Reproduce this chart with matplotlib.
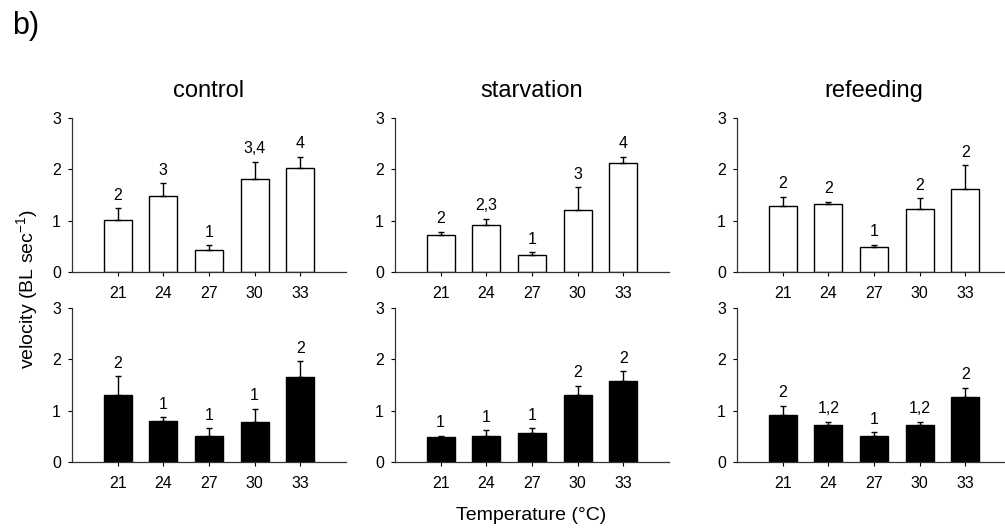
import numpy as np
import matplotlib
matplotlib.use('Agg')
import matplotlib.pyplot as plt

plt.rcParams['font.family'] = ['Liberation Sans', 'DejaVu Sans']
plt.rcParams['mathtext.fontset'] = 'custom'
plt.rcParams['mathtext.rm'] = 'Liberation Sans'
plt.rcParams['mathtext.it'] = 'Liberation Sans:italic'

# Dados
temps = ['21', '24', '27', '30', '33']
conditions = ['control', 'starvation', 'refeeding']

# linha de cima (barras brancas)
control_top = [1.02, 1.49, 0.43, 1.82, 2.02]
control_top_err = [0.22, 0.24, 0.09, 0.33, 0.23]
control_top_lbl = ['2', '3', '1', '3,4', '4']

starv_top = [0.73, 0.92, 0.34, 1.20, 2.13]
starv_top_err = [0.05, 0.12, 0.04, 0.45, 0.11]
starv_top_lbl = ['2', '2,3', '1', '3', '4']

refeed_top = [1.29, 1.33, 0.49, 1.22, 1.61]
refeed_top_err = [0.17, 0.04, 0.04, 0.22, 0.47]
refeed_top_lbl = ['2', '2', '1', '2', '2']

# linha de baixo (barras pretas)
control_bot = [1.31, 0.80, 0.51, 0.77, 1.65]
control_bot_err = [0.36, 0.07, 0.15, 0.27, 0.31]
control_bot_lbl = ['2', '1', '1', '1', '2']

starv_bot = [0.49, 0.51, 0.57, 1.31, 1.58]
starv_bot_err = [0.02, 0.11, 0.09, 0.17, 0.19]
starv_bot_lbl = ['1', '1', '1', '2', '2']

refeed_bot = [0.91, 0.72, 0.51, 0.73, 1.27]
refeed_bot_err = [0.19, 0.06, 0.07, 0.05, 0.18]
refeed_bot_lbl = ['2', '1,2', '1', '1,2', '2']

top_vals = [control_top, starv_top, refeed_top]
top_errs = [control_top_err, starv_top_err, refeed_top_err]
top_lbls = [control_top_lbl, starv_top_lbl, refeed_top_lbl]
bot_vals = [control_bot, starv_bot, refeed_bot]
bot_errs = [control_bot_err, starv_bot_err, refeed_bot_err]
bot_lbls = [control_bot_lbl, starv_bot_lbl, refeed_bot_lbl]

W, H = 1005, 529
fig = plt.figure(figsize=(W / 100, H / 100), dpi=100)

lefts = [72, 395, 737]
ax_w = 274
rows = [(272, 154, 'white', top_vals, top_errs, top_lbls),
        (462, 154, 'black', bot_vals, bot_errs, bot_lbls)]

x = np.arange(len(temps))


def draw_panel(ax, vals, errs, lbls, color):
    ax.bar(x, vals, width=0.61, color=color, edgecolor='black', linewidth=1.0, zorder=2)
    ax.errorbar(x, vals, yerr=[np.zeros(len(vals)), errs], fmt='none',
                ecolor='black', elinewidth=1.0, capsize=2.5, capthick=1.0, zorder=3)
    for xi, v, e, t in zip(x, vals, errs, lbls):
        ax.annotate(t, (xi, v + e), xytext=(0, 4), textcoords='offset points',
                    ha='center', va='bottom', fontsize=11.5)
    ax.set_xlim(-1, 5)
    ax.set_ylim(0, 3)
    ax.set_xticks(x)
    ax.set_xticklabels(temps)
    ax.set_yticks([0, 1, 2, 3])
    ax.spines['top'].set_visible(False)
    ax.spines['right'].set_visible(False)
    for s in ['left', 'bottom']:
        ax.spines[s].set_linewidth(0.9)
        ax.spines[s].set_color('#333333')
    ax.tick_params(axis='x', length=3, width=0.8, pad=7, labelsize=11.5)
    ax.tick_params(axis='y', length=3, width=0.8, pad=5, labelsize=11.5)


for y0, h, color, vals_all, errs_all, lbls_all in rows:
    for i, left in enumerate(lefts):
        ax = fig.add_axes([left / W, (H - y0) / H, ax_w / W, h / H])
        draw_panel(ax, vals_all[i], errs_all[i], lbls_all[i], color)
        if color == 'white':
            ax.set_title(conditions[i], fontsize=17, pad=15)

fig.text(12 / W, 1 - 26 / H, 'b)', fontsize=22, va='center', ha='left')
fig.text(531 / W, 1 - 516 / H, 'Temperature (°C)', fontsize=14, ha='center', va='center')
fig.text(27 / W, 1 - 289 / H, 'velocity (BL sec$^{-1}$)', fontsize=14,
         rotation=90, ha='center', va='center')

fig.savefig('out.png', dpi=100)
